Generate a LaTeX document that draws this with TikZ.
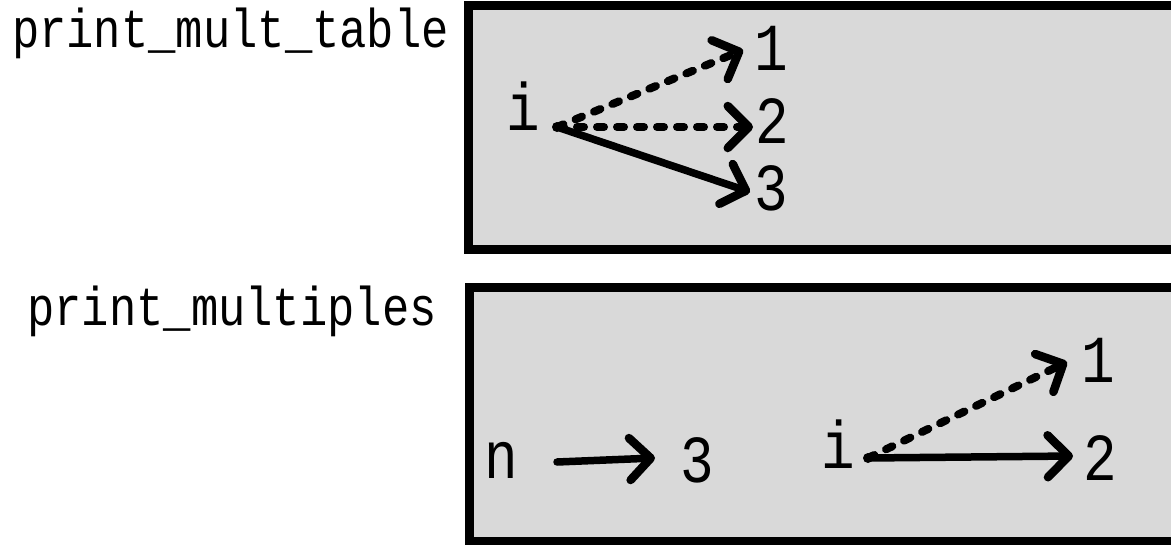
\documentclass[tikz,border=0pt]{standalone}
\usepackage{fontspec}
\newfontfamily\monof{Liberation Mono}
\usetikzlibrary{arrows.meta,calc}
\newcommand\tallt[1]{\scalebox{1}[1.2]{#1}}
\definecolor{boxgray}{HTML}{D9D9D9}
\tikzset{
  frame/.style={draw=black,fill=boxgray,line width=9pt},
  lab/.style={inner sep=0pt,anchor=base,font=\monof\fontsize{45.5}{54}\selectfont},
  val/.style={inner sep=0pt,anchor=base,font=\monof\fontsize{56}{66}\selectfont},
  tipb/.style={-{Straight Barb[length=21pt,width=42pt,line width=8.5pt,round]}},
  solidarr/.style={tipb,line width=7.5pt,line cap=round},
  dasharr/.style={tipb,line width=8pt,line cap=round,dash pattern=on 7pt off 13pt},
}
\begin{document}
\begin{tikzpicture}[x=1pt,y=-1pt]
\useasboundingbox (0,0) rectangle (1171,544);
\clip (0,0) rectangle (1171,544);
% frames
\draw[frame] (468,5.5) rectangle (1180,249);
\draw[frame] (469,287) rectangle (1180,541);
% labels
\node[lab] (lab1) at (230.5,47) {\tallt{print\_mult\_table}};
\node[lab] (lab2) at (232,325) {\tallt{print\_multiples}};
% print_mult_table frame
\node[val] (i1) at (523,130) {\tallt{i}};
\node[val] (a1) at (771,70) {\tallt{1}};
\node[val] (a2) at (772,143) {\tallt{2}};
\node[val] (a3) at (771,210) {\tallt{3}};
\coordinate (s1) at ($(i1.base)+(34,-3)$);
\fill (s1) circle (5pt);
\draw[dasharr] (s1) -- ($(a1.base)+(-28,-20)$);
\draw[dasharr] (s1) -- ($(a2.base)+(-19,-16)$);
\draw[solidarr] (s1) -- ($(a3.base)+(-21,-18)$);
% print_multiples frame
\node[val] (n) at (501,478) {\tallt{n}};
\node[val] (b3) at (697,482) {\tallt{3}};
\draw[solidarr] ($(n.base)+(56,-16)$) -- ($(b3.base)+(-42,-24)$);
\node[val] (i2) at (838,468) {\tallt{i}};
\node[val] (c1) at (1098,382) {\tallt{1}};
\node[val] (c2) at (1100,480) {\tallt{2}};
\coordinate (s2) at ($(i2.base)+(30,-10)$);
\fill (s2) circle (5pt);
\draw[dasharr] (s2) -- ($(c1.base)+(-31,-20)$);
\draw[solidarr] (s2) -- ($(c2.base)+(-27,-24)$);
\end{tikzpicture}
\end{document}
